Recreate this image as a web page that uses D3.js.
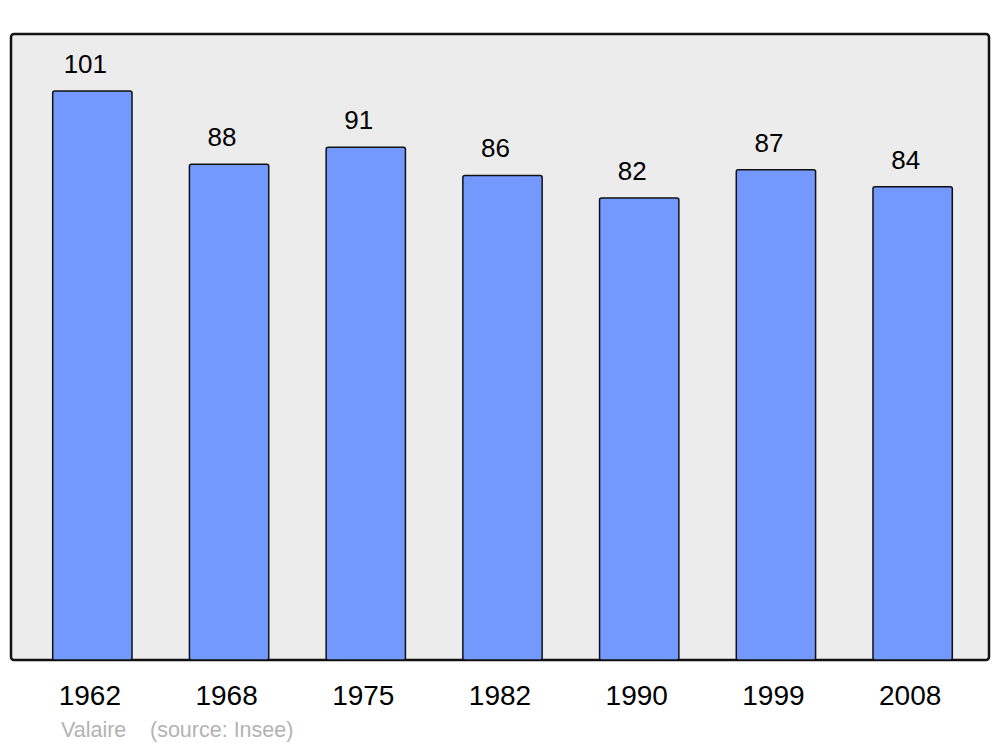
<!DOCTYPE html>
<html><head><meta charset="utf-8">
<script src="https://cdn.jsdelivr.net/npm/d3@7"></script>
<style>body{margin:0;background:#fff;}svg{display:block;font-family:"Liberation Sans",Arial,sans-serif;}</style>
</head><body>
<svg id="c" width="1000" height="747"></svg>
<script>
const years = ["1962","1968","1975","1982","1990","1999","2008"];
const population = [101,88,91,86,82,87,84];
const commune = "Valaire";
const source = "(source: Insee)";

const svg = d3.select("#c");
const panel = {x0: 11, y0: 34, x1: 989, y1: 660};

svg.append("rect").attr("x", panel.x0).attr("y", panel.y0)
  .attr("width", panel.x1 - panel.x0).attr("height", panel.y1 - panel.y0)
  .attr("rx", 3).attr("fill", "#ececec").attr("stroke", "#111").attr("stroke-width", 2.5);

const x = d3.scaleBand().domain(years).range([24, 981]).paddingInner(0.42).paddingOuter(0.21);
const y = d3.scaleLinear().domain([0, d3.max(population) * 1.1]).range([panel.y1, panel.y0]);

const data = years.map((yr, i) => ({yr, v: population[i]}));

svg.selectAll("rect.bar").data(data).enter().append("rect").attr("class", "bar")
  .attr("x", d => x(d.yr)).attr("y", d => y(d.v))
  .attr("width", x.bandwidth()).attr("height", d => y(0) - y(d.v))
  .attr("rx", 2).attr("fill", "#7399ff").attr("stroke", "#111").attr("stroke-width", 1.5);

svg.selectAll("text.val").data(data).enter().append("text").attr("class", "val")
  .attr("x", d => x(d.yr) + x.bandwidth() / 2 - 7).attr("y", d => y(d.v) - 18)
  .attr("text-anchor", "middle").attr("font-size", 26).attr("fill", "#000")
  .text(d => d.v);

const xAxis = d3.axisBottom(x).tickSize(0).tickPadding(0);
const ax = svg.append("g").attr("transform", `translate(0,${panel.y1})`).call(xAxis);
ax.select(".domain").remove();
ax.selectAll("text").attr("font-size", 28).attr("fill", "#000")
  .attr("font-family", "Liberation Sans, Arial, sans-serif")
  .attr("dy", null).attr("y", 45).attr("x", -2.5);

svg.append("text").attr("x", 61).attr("y", 737).attr("font-size", 21.5).attr("fill", "#b3b3b3").text(commune);
svg.append("text").attr("x", 150).attr("y", 737).attr("font-size", 21.5).attr("fill", "#b3b3b3").text(source);
</script>
</body></html>
